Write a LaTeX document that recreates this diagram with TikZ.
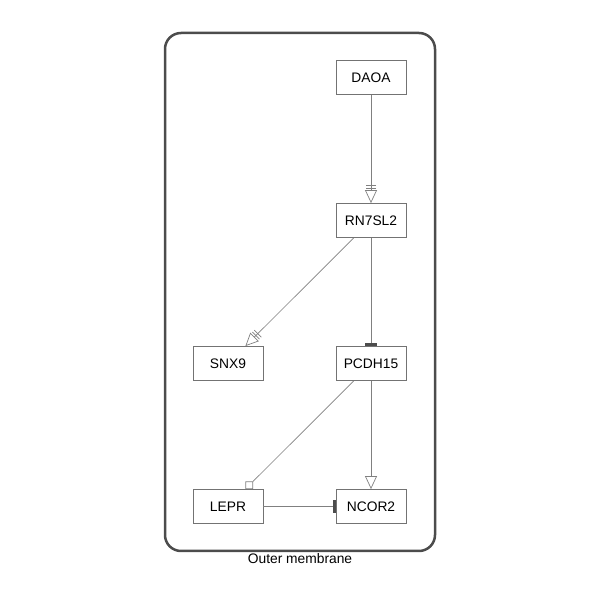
\documentclass[tikz,border=0pt]{standalone}
\usepackage{fontspec}
\setmainfont{Liberation Sans}
\usepackage{tikz}
\usetikzlibrary{arrows.meta,positioning,calc}
\pgfdeclarelayer{background}
\pgfdeclarelayer{foreground}
\pgfsetlayers{background,main,foreground}
\tikzstyle{gene}=[draw=black!55, fill=white, line width=0.8pt, minimum width=70pt,
minimum height=34pt, text centered, font=\fontsize{13.8}{16}\selectfont]
\tikzstyle{membrane}=[draw=black!70, line width=2.5pt, rounded corners=16pt,
minimum width=270pt, minimum height=518pt]
\tikzstyle{link}=[draw, line width=0.7pt, color=black!50]
\tikzstyle{stim}=[link, -{Bar[width=10pt,sep=2pt]Bar[width=10pt,sep=1.5pt]Triangle[open,length=13pt,width=12pt,fill=white]}]
\tikzstyle{conv}=[link, -{Triangle[open,length=13pt,width=12pt,fill=white]}]
\tikzstyle{inhib}=[link, -{Rectangle[length=3pt,width=12pt,black!70]}]
\tikzstyle{bind}=[link, -{Diamond[open,length=11pt,width=11pt,fill=white]}]
\newcommand{\gene}[2]{node (p#1)[gene]{#2}}

\begin{document}
\begin{tikzpicture}[x=1pt,y=1pt]
		\useasboundingbox (0,0) rectangle (600,600);
		
		% Draw diagram elements
		\path (371,522.5) \gene{1}{DAOA};
		\path (p1)+(0,-143) \gene{2}{RN7SL2};
		\path (p2)+(0,-143) \gene{3}{PCDH15};
		\path (p3)+(-143,0) \gene{4}{SNX9};
		\path (p3)+(0,-143) \gene{5}{NCOR2};
		\path (p5)+(-143,0) \gene{6}{LEPR};
		
		% Compartment
		\begin{pgfonlayer}{background}
		\node (mem)[membrane] at (300,308) {};
		\end{pgfonlayer}
		\node (memlabel)[below=0pt of mem.south, inner sep=1pt, font=\fontsize{13.8}{16}\selectfont] {Outer membrane};
		
		% Draw arrows between elements
		\path [stim] (p1) -- (p2);
		\path [stim] (p2) -- (p4);
		\path [inhib] (p2) -- (p3);
		\path [bind] (p3) -- (p6);
		\path [conv] (p3) -- (p5);
		\path [inhib] (p6) -- (p5);
\end{tikzpicture}
\end{document}
